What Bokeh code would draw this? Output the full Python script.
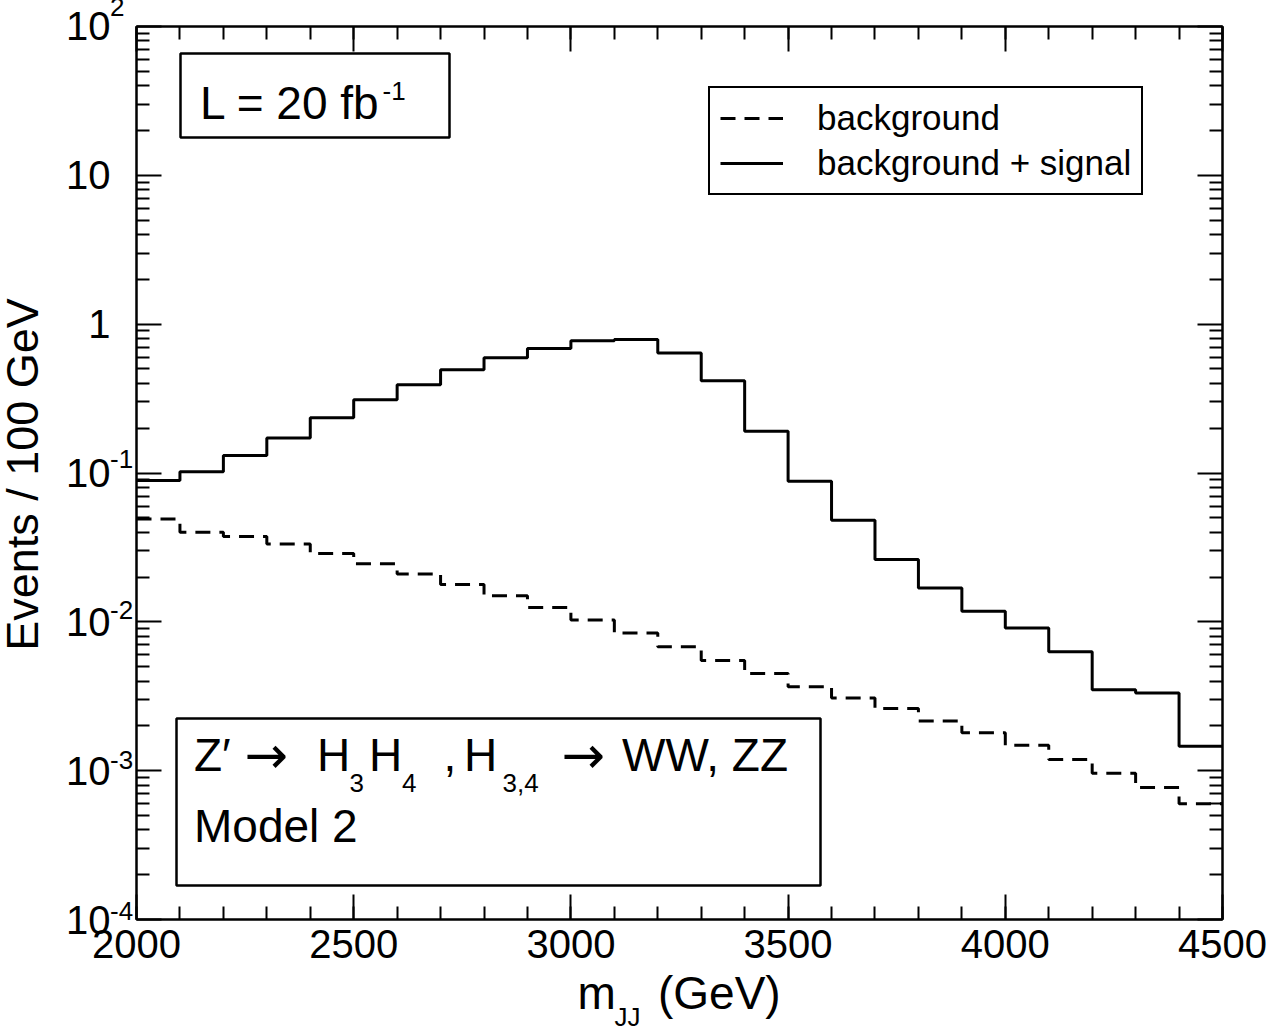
import math
from bokeh.plotting import figure
from bokeh.models import (Label, LinearAxis, LogAxis, Range1d, FixedTicker,
                          BoxAnnotation, ColumnDataSource, CustomJSTickFormatter)
from bokeh.embed import file_html
from bokeh.resources import INLINE

# ---------------- data ----------------
bin_low = [2000, 2100, 2200, 2300, 2400, 2500, 2600, 2700, 2800, 2900,
           3000, 3100, 3200, 3300, 3400, 3500, 3600, 3700, 3800, 3900,
           4000, 4100, 4200, 4300, 4400]
bin_high_end = 4500
background = [0.049, 0.040, 0.0374, 0.0334, 0.0288, 0.0246, 0.0210, 0.0178,
              0.0150, 0.0125, 0.0103, 0.0084, 0.0068, 0.0055, 0.0045, 0.00366,
              0.00308, 0.00262, 0.00216, 0.00180, 0.00148, 0.00119, 0.00096,
              0.00077, 0.00060]
background_plus_signal = [0.089, 0.102, 0.131, 0.172, 0.235, 0.310, 0.392,
                          0.494, 0.594, 0.687, 0.775, 0.790, 0.640, 0.416,
                          0.191, 0.088, 0.0482, 0.0262, 0.0169, 0.0118,
                          0.0091, 0.00630, 0.00350, 0.00332, 0.00146]

x_major = [2000, 2500, 3000, 3500, 4000, 4500]
x_major_labels = ["2000", "2500", "3000", "3500", "4000", "4500"]
y_major = [1e-4, 1e-3, 1e-2, 1e-1, 1, 10, 100]
y_label_base = ["10", "10", "10", "10", "1", "10", "10"]
y_label_exp = ["-4", "-3", "-2", "-1", "", "", "2"]

# ---------------- geometry ----------------
W, H = 1271, 1034
FL, FR, FT, FB = 136, 1222, 26, 919
X0, X1 = 2000, 4500
Y0, Y1 = 1e-4, 1e2
FONT = "Liberation Sans"
BASE_FIX = 0.37        # Bokeh text layout offset (fraction of font size)
LINE_FIX_BIG = 1.099   # Bokeh multi-line spacing factor, 40px text
LINE_FIX_SMALL = 1.140 # Bokeh multi-line spacing factor, 26px text
DECADE_PX = (FB - FT) / (math.log10(Y1) - math.log10(Y0))


def xd(px):
    return X0 + (px - FL) / (FR - FL) * (X1 - X0)


def yd(py):
    l0, l1 = math.log10(Y0), math.log10(Y1)
    return 10 ** (l1 - (py - FT) / (FB - FT) * (l1 - l0))


def ypx(val):
    l0, l1 = math.log10(Y0), math.log10(Y1)
    return FT + (l1 - math.log10(val)) / (l1 - l0) * (FB - FT)


p = figure(width=W, height=H, x_range=Range1d(X0, X1), y_range=Range1d(Y0, Y1),
           y_axis_type="log", output_backend="svg", toolbar_location=None,
           min_border_left=FL, min_border_right=W - FR, min_border_top=FT,
           min_border_bottom=H - FB)
p.xgrid.visible = False
p.ygrid.visible = False
p.outline_line_color = "black"
p.outline_line_width = 2
p.background_fill_color = "white"
p.border_fill_color = "white"

x_ticker = FixedTicker(ticks=x_major, minor_ticks=list(range(X0, X1 + 1, 100)))
y_ticker = FixedTicker(ticks=y_major,
                       minor_ticks=[m * 10.0 ** e for e in range(-4, 2) for m in range(2, 10)])

blank = CustomJSTickFormatter(code="return '';")


def style_axis(ax, show_labels=False):
    ax.axis_line_width = 2
    ax.axis_line_color = "black"
    ax.major_tick_in = 25
    ax.major_tick_out = 0
    ax.minor_tick_in = 13
    ax.minor_tick_out = 0
    ax.major_tick_line_width = 2
    ax.minor_tick_line_width = 2
    ax.major_tick_line_color = "black"
    ax.minor_tick_line_color = "black"
    if show_labels:
        ax.major_label_text_font = FONT
        ax.major_label_text_font_size = "40px"
        ax.major_label_text_color = "black"
        ax.major_label_standoff = 10
    else:
        ax.formatter = blank
        ax.major_label_text_font_size = "1px"
        ax.major_label_standoff = 0


xax = p.xaxis[0]
xax.ticker = x_ticker
xax.major_label_overrides = {v: t for v, t in zip(x_major, x_major_labels)}
style_axis(xax, show_labels=True)

yax = p.yaxis[0]
yax.ticker = y_ticker
style_axis(yax)

top_ax = LinearAxis(ticker=x_ticker)
style_axis(top_ax)
p.add_layout(top_ax, "above")
right_ax = LogAxis(ticker=y_ticker)
style_axis(right_ax)
p.add_layout(right_ax, "right")

# ---------------- histograms ----------------
xs = bin_low + [bin_high_end]
src_bg = ColumnDataSource(dict(x=xs, y=background + [background[-1]]))
src_tot = ColumnDataSource(dict(x=xs, y=background_plus_signal + [background_plus_signal[-1]]))
p.step("x", "y", source=src_bg, mode="after", line_color="black", line_width=3,
       line_dash="15 9", legend_label="background")
p.step("x", "y", source=src_tot, mode="after", line_color="black", line_width=3,
       legend_label="background + signal")

lg = p.legend[0]
lg.location = (708 - FL, FB - 195)
lg.margin = 0
lg.padding = 10
lg.spacing = 5
lg.glyph_width = 63
lg.glyph_height = 34
lg.label_height = 34
lg.label_standoff = 34
lg.label_text_font = FONT
lg.label_text_font_size = "35px"
lg.label_text_color = "black"
lg.border_line_color = "black"
lg.border_line_alpha = 1.0
lg.border_line_width = 2
lg.background_fill_color = "white"
lg.background_fill_alpha = 1.0


def txt(px, py, s, size, align="left", baseline="alphabetic", angle=0.0,
        font=FONT, place="center", line_height=1.2):
    shift = BASE_FIX * size if baseline == "alphabetic" else 0.0
    lbl = Label(x=px, y=py - shift, x_units="canvas", y_units="canvas",
                text=s, text_align=align, text_baseline=baseline,
                angle=angle, text_font=font, text_line_height=line_height,
                text_font_size=f"{size}px", text_color="black")
    if place == "center":
        p.add_layout(lbl)
    else:
        p.add_layout(lbl, place)


# ---------------- y tick labels (outside the frame, one column each) ----------------
order = sorted(range(len(y_major)), key=lambda i: -y_major[i])   # top to bottom
mid_val = y_major[order[len(order) // 2]]
base_col = "\n".join(y_label_base[i] for i in order)
exp_col = "\n".join(y_label_exp[i] for i in order)
txt(110, ypx(mid_val), base_col, 40, align="right", baseline="middle",
    place="left", line_height=DECADE_PX / (40 * LINE_FIX_BIG))
txt(109.5, ypx(mid_val) - 14, exp_col, 26, align="left", baseline="middle",
    place="left", line_height=DECADE_PX / (26 * LINE_FIX_SMALL))

# axis titles (outside the frame)
txt(22, 474, "Events / 100 GeV", 45, align="center", baseline="middle",
    angle=math.pi / 2, place="left")
txt(577, 1010, "m\u00a0\u00a0\u00a0\u200a(GeV)", 46, place="below")
txt(614, 1026, "JJ", 26, place="right")

# luminosity box
p.add_layout(BoxAnnotation(left=xd(180), right=xd(449), top=yd(53), bottom=yd(137),
                           fill_alpha=0, line_color="black", line_alpha=1.0,
                           line_width=2.5))
txt(199.5, 120, "L = 20 fb", 46)
txt(382, 100, "-1", 26)

# process box
p.add_layout(BoxAnnotation(left=xd(176), right=xd(820), top=yd(718), bottom=yd(885),
                           fill_alpha=0, line_color="black", line_alpha=1.0,
                           line_width=2.5))
base1, sub1 = 772, 792
txt(193.5, base1, "Z\u2032", 46)
txt(244, base1 + 2, "\u2192", 52, font="DejaVu Sans")
txt(316.4, base1, "H", 46)
txt(349, sub1, "3", 26)
txt(368.4, base1, "H", 46)
txt(401.5, sub1, "4", 26)
txt(443, base1, ",", 46)
txt(463.4, base1, "H", 46)
txt(502, sub1, "3,4", 26)
txt(561, base1 + 2, "\u2192", 52, font="DejaVu Sans")
txt(621.5, base1, "WW, ZZ", 46)
txt(193.5, 843, "Model 2", 46)

open("out.html", "w").write(file_html(p, INLINE))
